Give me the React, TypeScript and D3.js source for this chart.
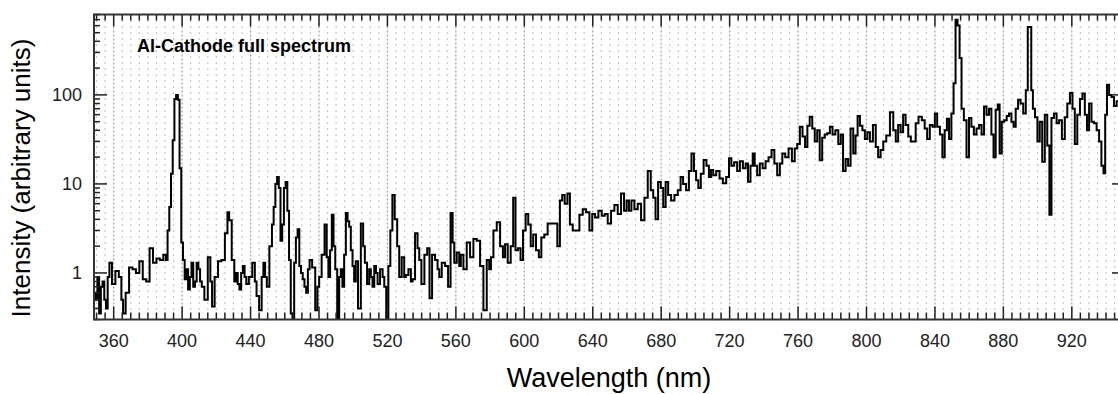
import React from "react";
import * as d3 from "d3";

// Spectrum: [wavelength (nm), intensity (arbitrary units)]
const spectrum: [number, number][] = [
  [348, 1.0], [349, 0.6], [350, 0.5], [351, 0.9], [352, 0.35], [353, 0.7], [354, 0.8], [355, 0.5], [356, 0.4], [357, 0.9], [358, 1.3], [360, 0.75], [362, 1.05],
  [364, 0.9], [365, 0.5], [366, 0.35], [368, 0.6], [370, 1.15], [372, 1.1], [374, 1.0], [376, 1.35], [378, 0.85],
  [380, 0.8], [382, 1.9], [384, 1.3], [386, 1.45], [388, 1.4], [390, 1.6], [391, 1.4], [392, 3.0],
  [393, 5.5], [394, 13], [395, 31], [396, 90], [397, 100], [398, 88], [399, 15], [400, 2.2],
  [401, 1.4], [402, 0.85], [403, 1.1], [404, 0.65], [405, 0.9], [406, 1.3], [407, 0.7], [408, 0.8], [409, 1.3], [410, 1.1], [411, 0.8], [412, 0.7], [414, 0.5],
  [416, 1.5], [417, 0.8], [418, 0.42], [420, 0.9], [422, 1.35], [424, 1.4], [426, 2.8], [427, 4.8], [428, 3.9],
  [430, 1.4], [431, 0.8], [432, 1.0], [433, 0.75], [434, 0.65], [435, 1.0], [436, 1.2], [437, 0.9], [438, 0.75], [440, 0.9], [442, 1.3], [443, 0.8], [444, 0.55],
  [446, 0.38], [447, 0.9], [448, 1.3], [449, 0.9], [450, 0.7], [452, 2.0], [453, 3.5], [454, 5.5], [455, 10], [456, 12],
  [457, 9], [458, 2.3], [459, 3.5], [460, 9], [461, 10.5], [462, 5], [463, 1.4], [464, 0.35],
  [465, 0.3], [466, 1.3], [467, 2.5], [468, 3.1], [469, 1.2], [470, 1.0], [471, 0.85], [472, 0.7], [473, 0.6], [474, 1.1], [475, 1.4],
  [477, 1.15], [478.6, 0.38], [479.6, 0.7], [480.6, 0.9], [482.5, 1.6], [484, 3.5], [485, 1.5], [486, 0.9], [487, 1.8], [488, 4.5], [489, 2.0], [490, 1.1],
  [491.3, 0.3], [492.3, 0.9], [493.2, 1.1], [494.2, 0.7], [495.2, 1.6], [496.2, 4.7], [497.2, 3.8], [498.1, 3.3], [499.1, 1.8], [500.1, 1.2], [501, 0.8], [502, 1.35], [503.6, 0.4],
  [505.3, 3.6], [506.3, 2.0], [507.3, 1.3], [508.9, 0.75], [509.8, 1.1], [510.8, 0.9], [511.8, 0.7], [512.8, 1.2], [513.8, 1.0], [514.7, 0.75], [516.7, 1.1], [517.7, 0.9], [518.6, 0.7],
  [520, 0.3], [521.1, 1.2], [522.3, 3.0], [523.5, 7.5], [525, 4], [526.4, 2.0], [527.4, 0.9], [529.3, 1.5], [530.3, 0.9], [531.3, 0.95],
  [533.2, 1.1], [534.2, 0.8], [535.2, 0.85], [537.1, 2.8], [538.1, 1.9], [539.1, 1.4], [540.6, 0.75], [542.6, 1.6], [543.9, 1.9], [545.3, 0.52],
  [546.9, 1.6], [548.8, 1.4], [549.8, 1.1], [550.8, 0.9], [552.7, 1.3], [554.7, 1.2], [556.2, 0.7], [557.6, 4.7], [558.6, 2.2], [559.5, 1.3],
  [561.5, 1.7], [562.4, 1.2], [563.4, 1.6], [565.4, 1.1], [567.3, 2.2], [569.3, 1.5], [571.2, 2.4], [573.2, 2.3], [575.1, 1.2],
  [577.1, 0.38], [579, 1.4], [580, 1.1], [581, 1.5], [582.9, 3.0], [584.9, 3.7], [586.8, 2.0], [588.2, 1.5], [589.3, 2.1],
  [591.3, 1.3], [592.8, 2.0], [594.2, 7.0], [595.5, 1.8], [597.1, 1.9], [598.5, 1.4], [600, 3.0], [601.6, 4.6],
  [603, 3.5], [604.5, 2.0], [605.9, 2.7], [607.8, 1.8], [609.2, 1.5], [610.7, 2.5], [612.7, 2.7], [614.6, 3.6],
  [616.6, 3.6], [618.5, 3.6], [620.1, 2.0], [621.5, 6.5], [622.8, 7.5], [624.4, 6.0], [626, 7.8], [627.3, 3.5],
  [629.3, 3.0], [631.2, 3.0], [633.2, 4.5], [635.1, 5.2], [637.1, 4.8], [639, 3.0], [640.4, 4.6], [642.3, 4.2],
  [644.3, 5.0], [646.2, 4.4], [647.8, 4.6], [649.7, 3.6], [651.7, 5.0], [653.6, 5.8], [655.6, 4.6], [657.5, 7.8],
  [659.1, 5.0], [660.5, 6.5], [661.8, 5.0], [663.4, 6.5], [665.3, 5.2], [667.3, 6.0], [669.2, 3.9], [671.2, 7.0],
  [673.1, 14], [674.7, 8.5], [676, 7.0], [677.4, 4.0], [679, 10.5], [680.5, 9.0], [681.9, 5.5], [683.3, 10.5],
  [684.8, 7.5], [686.8, 6.5], [688.7, 7.5], [690.7, 8.5], [692, 12], [693.6, 10], [695.5, 8.5], [696.9, 14],
  [698.5, 22], [699.8, 14], [701, 11], [702.4, 9], [703.9, 13], [705.7, 18.6], [707.2, 16], [708.6, 12],
  [709.6, 14.3], [711.2, 12.5], [713.1, 14], [715.1, 11.5], [717, 10.2], [719, 12], [720.3, 19.4], [721.7, 16],
  [723.6, 17.5], [725.2, 14], [726.8, 18], [728.7, 15], [730.1, 17], [731.4, 10.6], [733, 16], [734, 22],
  [735.3, 16], [736.9, 12.5], [738.4, 17], [740.2, 15], [741.8, 18], [743.7, 20], [745.3, 24], [747, 17],
  [748.6, 12.5], [750.1, 17], [751.5, 22], [753.5, 20], [755.4, 25], [757.4, 18], [758.7, 25], [760.3, 28],
  [761.8, 44], [763.4, 34], [764.8, 26], [766.1, 45], [767.5, 57], [769.1, 42], [770.4, 30], [772, 40],
  [773.3, 18.5], [774.9, 33], [776.3, 36], [777.8, 37], [779.4, 44], [780.9, 36], [782.7, 40], [784.3, 28],
  [785.6, 36], [787, 14], [788.6, 19], [789.9, 16], [791.5, 42], [793, 22], [794.2, 35], [795.4, 58],
  [796.9, 45], [798.3, 40], [799.8, 32], [801.2, 38], [802.8, 30], [804.7, 46], [806.1, 26], [807.5, 20],
  [809, 24], [810.6, 30], [812.5, 35], [814.9, 64], [816.4, 40], [817.8, 30], [819.2, 46], [820.7, 38],
  [822.1, 60], [823.6, 46], [825.2, 34], [826.6, 30], [828.1, 30], [829.4, 48], [831.4, 57], [833.3, 52],
  [834.7, 42], [836.2, 32], [837.8, 46], [839.4, 44], [840.5, 62], [842.1, 44], [843.7, 36], [845, 20],
  [846.4, 40], [847.6, 54], [848.9, 32], [850.3, 62], [851.5, 135], [852.6, 700], [853.8, 600], [855, 260],
  [856.1, 70], [857.7, 52], [859.2, 20], [860.6, 55], [862, 44], [863.5, 36], [865.1, 42], [866.5, 46],
  [868, 36], [869.4, 74], [870.9, 60], [872.3, 70], [873.7, 36], [874.8, 20], [876.2, 68], [877.2, 78],
  [878.4, 22], [879.7, 50], [881.3, 52], [882.6, 58], [884, 62], [885.4, 50], [886.5, 44], [887.9, 70],
  [889.3, 88], [890.8, 80], [892.4, 62], [893.8, 113], [894.7, 580], [895.9, 580], [896.7, 113], [897.8, 70],
  [899.2, 56], [900.6, 30], [901.9, 50], [903.5, 17.8], [904.9, 60], [906.4, 27], [907.4, 4.5], [908.8, 55],
  [910.3, 62], [911.9, 48], [913.2, 52], [915.2, 32], [916.6, 56], [918.1, 80], [919.7, 105], [921.1, 70],
  [922.4, 28], [924, 60], [925.5, 90], [926.9, 104], [928.3, 60], [929.4, 40], [930.8, 80], [932.2, 50],
  [933.7, 48], [935.3, 40], [936.6, 30], [938, 16], [939, 13.2], [940, 60], [941.1, 130], [942.5, 100],
  [943.9, 95], [945.4, 75], [947, 85], [948.5, 90], [950, 80],
];

const xMajorTicks = [360, 400, 440, 480, 520, 560, 600, 640, 680, 720, 760, 800, 840, 880, 920];
const yMajorTicks = [1, 10, 100];
const yTickLabels = ["1", "10", "100"];
const xTitle = "Wavelength (nm)";
const yTitle = "Intensity (arbitrary units)";
const annotation = "Al-Cathode full spectrum";

const W = 1118;
const H = 394;
const L = 94, R = 1124, T = 14.5, B = 319.5;

export default function App() {
  const x = d3.scaleLinear().domain([348.5, 950.5]).range([L, R]);
  const y = d3.scaleLog().domain([0.3, 800]).range([B, T]);

  const xMinor = d3.range(350, 951, 5).filter((v) => !xMajorTicks.includes(v));
  const yMinor: number[] = [];
  [0.1, 1, 10, 100].forEach((dec) => {
    for (let k = 2; k <= 9; k++) {
      const v = dec * k;
      if (v >= 0.3 && v <= 800) yMinor.push(v);
    }
  });

  const line = d3
    .line<[number, number]>()
    .x((d) => x(d[0]))
    .y((d) => y(d[1]))
    .curve(d3.curveStep);

  const font = "'Liberation Sans', Arial, sans-serif";
  const tickColor = "#222";

  return (
    <svg
      width={W}
      height={H}
      style={{ position: "fixed", left: 0, top: 0, background: "#fff" }}
    >
      <defs>
        <clipPath id="plot">
          <rect x={L} y={T} width={R - L} height={B - T} />
        </clipPath>
      </defs>
      <rect x={0} y={0} width={W} height={H} fill="#fff" />

      {/* grid */}
      {xMinor.map((v) => (
        <line
          key={"gm" + v}
          x1={x(v)}
          x2={x(v)}
          y1={T}
          y2={B}
          stroke="#a8a8a8"
          strokeWidth={1.2}
          strokeDasharray="1.2,4.8"
        />
      ))}
      {xMajorTicks.map((v) => (
        <line
          key={"gM" + v}
          x1={x(v)}
          x2={x(v)}
          y1={T}
          y2={B}
          stroke="#a0a0a0"
          strokeWidth={1.2}
          strokeDasharray="2,2"
        />
      ))}

      {/* spectrum */}
      <g clipPath="url(#plot)">
        <path
          d={line(spectrum) ?? ""}
          fill="none"
          stroke="#000"
          strokeWidth={2}
          strokeLinejoin="miter"
        />
      </g>

      {/* x ticks (bottom, top) */}
      {xMajorTicks.map((v) => (
        <g key={"xt" + v}>
          <line x1={x(v)} x2={x(v)} y1={B} y2={B - 13} stroke={tickColor} strokeWidth={1.5} />
          <line x1={x(v)} x2={x(v)} y1={T} y2={T + 12} stroke={tickColor} strokeWidth={1.5} />
          <text
            x={x(v)}
            y={347}
            textAnchor="middle"
            fontFamily={font}
            fontSize={18}
            fill="#222"
          >
            {v}
          </text>
        </g>
      ))}
      {xMinor.map((v) => (
        <g key={"xm" + v}>
          <line x1={x(v)} x2={x(v)} y1={B} y2={B - 7} stroke={tickColor} strokeWidth={1.5} />
          <line x1={x(v)} x2={x(v)} y1={T} y2={T + 6} stroke={tickColor} strokeWidth={1.5} />
        </g>
      ))}

      {/* y ticks (left, right) */}
      {yMajorTicks.map((v, i) => (
        <g key={"yt" + v}>
          <line x1={L} x2={L + 13} y1={y(v)} y2={y(v)} stroke={tickColor} strokeWidth={1.5} />
          <line x1={R} x2={R - 12} y1={y(v)} y2={y(v)} stroke={tickColor} strokeWidth={1.5} />
          <text
            x={82}
            y={y(v) + 6.5}
            textAnchor="end"
            fontFamily={font}
            fontSize={18}
            fill="#222"
          >
            {yTickLabels[i]}
          </text>
        </g>
      ))}
      {yMinor.map((v) => (
        <g key={"ym" + v}>
          <line x1={L} x2={L + 6} y1={y(v)} y2={y(v)} stroke={tickColor} strokeWidth={1.5} />
          <line x1={R} x2={R - 6} y1={y(v)} y2={y(v)} stroke={tickColor} strokeWidth={1.5} />
        </g>
      ))}

      {/* frame */}
      <rect x={L} y={T} width={R - L} height={B - T} fill="none" stroke="#333" strokeWidth={2} />

      {/* annotation */}
      <text x={137} y={52} fontFamily={font} fontSize={18} fontWeight="bold" fill="#000">
        {annotation}
      </text>

      {/* axis titles */}
      <text
        x={609}
        y={387}
        textAnchor="middle"
        fontFamily={font}
        fontSize={27}
        fill="#000"
      >
        {xTitle}
      </text>
      <text
        transform={`translate(30,178) rotate(-90)`}
        textAnchor="middle"
        fontFamily={font}
        fontSize={26}
        fill="#000"
      >
        {yTitle}
      </text>
    </svg>
  );
}
